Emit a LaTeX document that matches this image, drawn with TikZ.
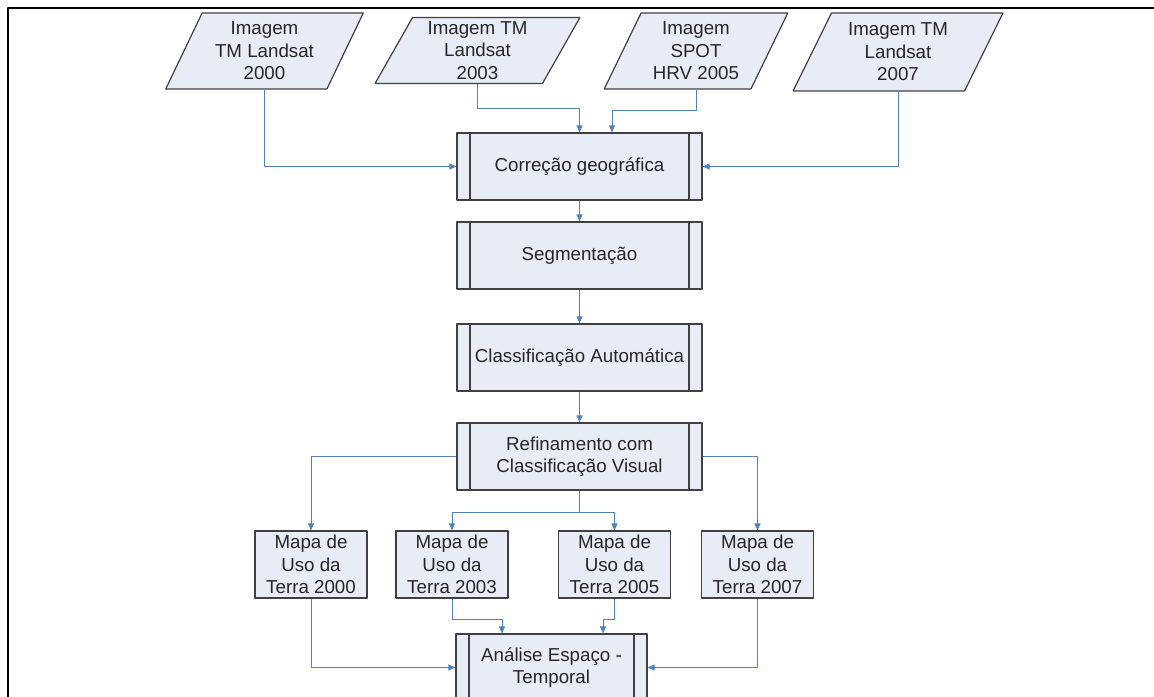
\documentclass[tikz,border=0pt]{standalone}
\usepackage{fontspec}
\setmainfont{Liberation Sans}
\usepackage{tikz}
\usetikzlibrary{arrows.meta,shapes.geometric}
\definecolor{boxfill}{RGB}{231,236,246}
\definecolor{boxline}{RGB}{64,64,64}
\definecolor{linkcol}{RGB}{79,129,189}

\begin{document}
\begin{tikzpicture}[>={Triangle[length=7bp,width=6bp]},line join=bevel,
  every node/.style={font=\fontsize{18.8}{22.5}\selectfont,text=black!85,align=center,inner sep=0pt},
  databox/.style={draw=boxline,fill=boxfill,line width=1.2bp,trapezium,
    trapezium left angle=63.5,trapezium right angle=116.5,trapezium stretches=true},
  procbox/.style={draw=boxline,fill=boxfill,line width=1.2bp,minimum height=67bp,
    path picture={\draw[boxline,line width=1.2bp]
      ([xshift=13bp]path picture bounding box.north west) -- ([xshift=13bp]path picture bounding box.south west)
      ([xshift=-13bp]path picture bounding box.north east) -- ([xshift=-13bp]path picture bounding box.south east);}},
  mapbox/.style={draw=boxline,fill=boxfill,line width=1.2bp,minimum width=112bp,minimum height=67bp},
  link/.style={->,draw=linkcol,line width=0.9bp}]
%%
\useasboundingbox (0,0) rectangle (1154bp,697bp);
\clip (0,0) rectangle (1154bp,697bp);
\draw [line width=2.6bp] (8bp,0bp) -- (8bp,689bp) -- (1154bp,689bp);
%
  \node (img1) at (264.5bp,646bp) [databox,minimum width=198bp,minimum height=76bp] {Imagem\\TM Landsat\\2000};
  \node (img2) at (477.5bp,646.5bp) [databox,minimum width=205bp,minimum height=66bp] {Imagem TM\\Landsat\\2003};
  \node (img3) at (696bp,646bp) [databox,minimum width=184bp,minimum height=76bp] {Imagem\\SPOT\\HRV 2005};
  \node (img4) at (898bp,645bp) [databox,minimum width=210bp,minimum height=78bp] {Imagem TM\\Landsat\\2007};
  \node (corr) at (579.5bp,530.5bp) [procbox,minimum width=245bp] {Correção geográfica};
  \node (seg) at (579.5bp,441.5bp) [procbox,minimum width=245bp] {Segmentação};
  \node (cls) at (579.5bp,339.5bp) [procbox,minimum width=245bp] {Classificação Automática};
  \node (ref) at (579.5bp,240.5bp) [procbox,minimum width=245bp] {Refinamento com\\Classificação Visual};
  \node (m2000) at (311bp,132.5bp) [mapbox] {Mapa de\\Uso da\\Terra 2000};
  \node (m2003) at (452bp,132.5bp) [mapbox] {Mapa de\\Uso da\\Terra 2003};
  \node (m2005) at (614.5bp,132.5bp) [mapbox] {Mapa de\\Uso da\\Terra 2005};
  \node (m2007) at (757.5bp,132.5bp) [mapbox] {Mapa de\\Uso da\\Terra 2007};
  \node (ana) at (551.5bp,29.5bp) [procbox,minimum width=191bp] {Análise Espaço -\\Temporal};
%
  \draw [link] (img1.south) |- (corr.west);
  \draw [link] (img4.south) |- (corr.east);
  \draw [link] (img2.south) -- ++(0,-24bp) -| (corr.north);
  \draw [link] (img3.south) -- ++(0,-21bp) -| ([xshift=32.5bp]corr.north);
  \draw [link] (corr) -- (seg);
  \draw [link] (seg) -- (cls);
  \draw [link] (cls) -- (ref);
  \draw [link] (ref.west) -| (m2000.north);
  \draw [link] (ref.east) -| (m2007.north);
  \draw [link] (ref.south) -- ++(0,-22bp) -| (m2003.north);
  \draw [link] (ref.south) -- ++(0,-22bp) -| (m2005.north);
  \draw [link] (m2003.south) -- ++(0,-21bp) -| ([xshift=-49.5bp]ana.north);
  \draw [link] (m2005.south) -- ++(0,-21bp) -| ([xshift=51.5bp]ana.north);
  \draw [link] (m2000.south) |- (ana.west);
  \draw [link] (m2007.south) |- (ana.east);
%
\end{tikzpicture}
\end{document}
